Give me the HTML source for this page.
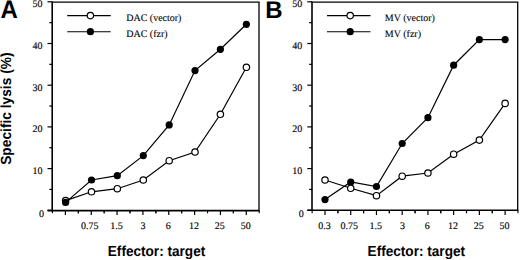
<!DOCTYPE html>
<html><head><meta charset="utf-8"><style>
html,body{margin:0;padding:0;background:#fff;}
body{width:520px;height:260px;overflow:hidden;}
svg{display:block;text-rendering:geometricPrecision;}
.tl{font-family:"Liberation Serif",serif;font-size:10px;fill:#000;stroke:#000;stroke-width:0.14px;}
.lg{font-family:"Liberation Serif",serif;font-size:10px;fill:#000;stroke:#000;stroke-width:0.1px;}
.ax{font-family:"Liberation Sans",sans-serif;font-weight:bold;font-size:13.6px;fill:#000;}
.big{font-family:"Liberation Sans",sans-serif;font-weight:bold;font-size:24px;fill:#000;}
</style></head><body>
<svg width="520" height="260" viewBox="0 0 520 260">
<rect width="520" height="260" fill="#fff"/>
<text transform="translate(0.4,17.9) scale(1,1.055)" class="big">A</text>
<text x="265.3" y="18.1" class="big">B</text>
<text transform="translate(11.3,164.8) rotate(-90) scale(1.0,1.07)" class="ax" style="font-size:13.75px">Specific lysis (%)</text>
<line x1="52.2" y1="1.6" x2="52.2" y2="211.4" stroke="#000" stroke-width="1.6"/>
<line x1="52.2" y1="2.2" x2="259.65" y2="2.2" stroke="#000" stroke-width="1.2"/>
<line x1="259.0" y1="2.2" x2="259.0" y2="210.6" stroke="#000" stroke-width="1.3"/>
<line x1="47.5" y1="210.6" x2="259.65" y2="210.6" stroke="#000" stroke-width="1.6"/>
<line x1="47.5" y1="210.27" x2="52.2" y2="210.27" stroke="#000" stroke-width="1.2"/>
<text x="43.90" y="216.67" text-anchor="end" class="tl">0</text>
<line x1="49.300000000000004" y1="189.42" x2="52.2" y2="189.42" stroke="#000" stroke-width="1.2"/>
<line x1="47.5" y1="168.58" x2="52.2" y2="168.58" stroke="#000" stroke-width="1.2"/>
<text x="42.40" y="174.08" text-anchor="end" class="tl">10</text>
<line x1="49.300000000000004" y1="147.73" x2="52.2" y2="147.73" stroke="#000" stroke-width="1.2"/>
<line x1="47.5" y1="126.88" x2="52.2" y2="126.88" stroke="#000" stroke-width="1.2"/>
<text x="42.40" y="132.38" text-anchor="end" class="tl">20</text>
<line x1="49.300000000000004" y1="106.04" x2="52.2" y2="106.04" stroke="#000" stroke-width="1.2"/>
<line x1="47.5" y1="85.19" x2="52.2" y2="85.19" stroke="#000" stroke-width="1.2"/>
<text x="42.40" y="90.69" text-anchor="end" class="tl">30</text>
<line x1="49.300000000000004" y1="64.34" x2="52.2" y2="64.34" stroke="#000" stroke-width="1.2"/>
<line x1="47.5" y1="43.49" x2="52.2" y2="43.49" stroke="#000" stroke-width="1.2"/>
<text x="42.40" y="48.99" text-anchor="end" class="tl">40</text>
<line x1="49.300000000000004" y1="22.65" x2="52.2" y2="22.65" stroke="#000" stroke-width="1.2"/>
<line x1="47.5" y1="1.80" x2="52.2" y2="1.80" stroke="#000" stroke-width="1.2"/>
<text x="42.40" y="7.30" text-anchor="end" class="tl">50</text>
<line x1="65.40" y1="210.27" x2="65.40" y2="215.07000000000002" stroke="#000" stroke-width="1.2"/>
<line x1="52.48" y1="210.27" x2="52.48" y2="213.17000000000002" stroke="#000" stroke-width="1.1"/>
<line x1="78.32" y1="210.27" x2="78.32" y2="213.17000000000002" stroke="#000" stroke-width="1.1"/>
<line x1="91.24" y1="210.27" x2="91.24" y2="215.07000000000002" stroke="#000" stroke-width="1.2"/>
<line x1="78.32" y1="210.27" x2="78.32" y2="213.17000000000002" stroke="#000" stroke-width="1.1"/>
<line x1="104.16" y1="210.27" x2="104.16" y2="213.17000000000002" stroke="#000" stroke-width="1.1"/>
<text x="89.84" y="229" text-anchor="middle" class="tl">0.75</text>
<line x1="117.08" y1="210.27" x2="117.08" y2="215.07000000000002" stroke="#000" stroke-width="1.2"/>
<line x1="104.16" y1="210.27" x2="104.16" y2="213.17000000000002" stroke="#000" stroke-width="1.1"/>
<line x1="130.00" y1="210.27" x2="130.00" y2="213.17000000000002" stroke="#000" stroke-width="1.1"/>
<text x="116.48" y="229" text-anchor="middle" class="tl">1.5</text>
<line x1="142.92" y1="210.27" x2="142.92" y2="215.07000000000002" stroke="#000" stroke-width="1.2"/>
<line x1="130.00" y1="210.27" x2="130.00" y2="213.17000000000002" stroke="#000" stroke-width="1.1"/>
<line x1="155.84" y1="210.27" x2="155.84" y2="213.17000000000002" stroke="#000" stroke-width="1.1"/>
<text x="143.12" y="229" text-anchor="middle" class="tl">3</text>
<line x1="168.76" y1="210.27" x2="168.76" y2="215.07000000000002" stroke="#000" stroke-width="1.2"/>
<line x1="155.84" y1="210.27" x2="155.84" y2="213.17000000000002" stroke="#000" stroke-width="1.1"/>
<line x1="181.68" y1="210.27" x2="181.68" y2="213.17000000000002" stroke="#000" stroke-width="1.1"/>
<text x="168.16" y="229" text-anchor="middle" class="tl">6</text>
<line x1="194.60" y1="210.27" x2="194.60" y2="215.07000000000002" stroke="#000" stroke-width="1.2"/>
<line x1="181.68" y1="210.27" x2="181.68" y2="213.17000000000002" stroke="#000" stroke-width="1.1"/>
<line x1="207.52" y1="210.27" x2="207.52" y2="213.17000000000002" stroke="#000" stroke-width="1.1"/>
<text x="194.00" y="229" text-anchor="middle" class="tl">12</text>
<line x1="220.44" y1="210.27" x2="220.44" y2="215.07000000000002" stroke="#000" stroke-width="1.2"/>
<line x1="207.52" y1="210.27" x2="207.52" y2="213.17000000000002" stroke="#000" stroke-width="1.1"/>
<line x1="233.36" y1="210.27" x2="233.36" y2="213.17000000000002" stroke="#000" stroke-width="1.1"/>
<text x="219.84" y="229" text-anchor="middle" class="tl">25</text>
<line x1="246.28" y1="210.27" x2="246.28" y2="215.07000000000002" stroke="#000" stroke-width="1.2"/>
<line x1="233.36" y1="210.27" x2="233.36" y2="213.17000000000002" stroke="#000" stroke-width="1.1"/>
<line x1="259.20" y1="210.27" x2="259.20" y2="213.17000000000002" stroke="#000" stroke-width="1.1"/>
<text x="245.68" y="229" text-anchor="middle" class="tl">50</text>
<line x1="67.2" y1="15.6" x2="110.7" y2="15.6" stroke="#000" stroke-width="1.1"/>
<circle cx="90.4" cy="15.6" r="3.2" fill="#fff" stroke="#000" stroke-width="1.2"/>
<line x1="67.2" y1="31.7" x2="110.7" y2="31.7" stroke="#000" stroke-width="1.1"/>
<circle cx="90.4" cy="31.7" r="3.6" fill="#000"/>
<text x="126.2" y="21.0" class="lg">DAC (vector)</text>
<text x="126.2" y="37.0" class="lg">DAC (fzr)</text>
<polyline points="65.60,200.6 91.50,191.8 117.30,188.7 143.30,180.0 169.20,160.7 195.00,152.0 220.40,114.3 246.40,67.3" fill="none" stroke="#000" stroke-width="1.2"/>
<circle cx="65.60" cy="200.6" r="3.2" fill="#fff" stroke="#000" stroke-width="1.2"/>
<circle cx="91.50" cy="191.8" r="3.2" fill="#fff" stroke="#000" stroke-width="1.2"/>
<circle cx="117.30" cy="188.7" r="3.2" fill="#fff" stroke="#000" stroke-width="1.2"/>
<circle cx="143.30" cy="180.0" r="3.2" fill="#fff" stroke="#000" stroke-width="1.2"/>
<circle cx="169.20" cy="160.7" r="3.2" fill="#fff" stroke="#000" stroke-width="1.2"/>
<circle cx="195.00" cy="152.0" r="3.2" fill="#fff" stroke="#000" stroke-width="1.2"/>
<circle cx="220.40" cy="114.3" r="3.2" fill="#fff" stroke="#000" stroke-width="1.2"/>
<circle cx="246.40" cy="67.3" r="3.2" fill="#fff" stroke="#000" stroke-width="1.2"/>
<polyline points="65.60,202.4 91.50,180.0 117.30,175.7 143.30,155.6 169.20,124.9 195.00,70.6 220.40,49.3 246.40,24.3" fill="none" stroke="#000" stroke-width="1.2"/>
<circle cx="65.60" cy="202.4" r="3.6" fill="#000"/>
<circle cx="91.50" cy="180.0" r="3.6" fill="#000"/>
<circle cx="117.30" cy="175.7" r="3.6" fill="#000"/>
<circle cx="143.30" cy="155.6" r="3.6" fill="#000"/>
<circle cx="169.20" cy="124.9" r="3.6" fill="#000"/>
<circle cx="195.00" cy="70.6" r="3.6" fill="#000"/>
<circle cx="220.40" cy="49.3" r="3.6" fill="#000"/>
<circle cx="246.40" cy="24.3" r="3.6" fill="#000"/>
<text transform="translate(107.80000000000001,255.6) scale(1.0,1.07)" class="ax">Effector: target</text>
<line x1="312.0" y1="1.6" x2="312.0" y2="211.10000000000002" stroke="#000" stroke-width="1.6"/>
<line x1="312.0" y1="2.2" x2="518.35" y2="2.2" stroke="#000" stroke-width="1.2"/>
<line x1="517.7" y1="2.2" x2="517.7" y2="210.3" stroke="#000" stroke-width="1.3"/>
<line x1="307.3" y1="210.3" x2="518.35" y2="210.3" stroke="#000" stroke-width="1.6"/>
<line x1="307.3" y1="210.27" x2="312.0" y2="210.27" stroke="#000" stroke-width="1.2"/>
<text x="303.70" y="216.67" text-anchor="end" class="tl">0</text>
<line x1="309.1" y1="189.42" x2="312.0" y2="189.42" stroke="#000" stroke-width="1.2"/>
<line x1="307.3" y1="168.58" x2="312.0" y2="168.58" stroke="#000" stroke-width="1.2"/>
<text x="302.20" y="174.08" text-anchor="end" class="tl">10</text>
<line x1="309.1" y1="147.73" x2="312.0" y2="147.73" stroke="#000" stroke-width="1.2"/>
<line x1="307.3" y1="126.88" x2="312.0" y2="126.88" stroke="#000" stroke-width="1.2"/>
<text x="302.20" y="132.38" text-anchor="end" class="tl">20</text>
<line x1="309.1" y1="106.04" x2="312.0" y2="106.04" stroke="#000" stroke-width="1.2"/>
<line x1="307.3" y1="85.19" x2="312.0" y2="85.19" stroke="#000" stroke-width="1.2"/>
<text x="302.20" y="90.69" text-anchor="end" class="tl">30</text>
<line x1="309.1" y1="64.34" x2="312.0" y2="64.34" stroke="#000" stroke-width="1.2"/>
<line x1="307.3" y1="43.49" x2="312.0" y2="43.49" stroke="#000" stroke-width="1.2"/>
<text x="302.20" y="48.99" text-anchor="end" class="tl">40</text>
<line x1="309.1" y1="22.65" x2="312.0" y2="22.65" stroke="#000" stroke-width="1.2"/>
<line x1="307.3" y1="1.80" x2="312.0" y2="1.80" stroke="#000" stroke-width="1.2"/>
<text x="302.20" y="7.30" text-anchor="end" class="tl">50</text>
<line x1="325.00" y1="210.27" x2="325.00" y2="215.07000000000002" stroke="#000" stroke-width="1.2"/>
<line x1="312.13" y1="210.27" x2="312.13" y2="213.17000000000002" stroke="#000" stroke-width="1.1"/>
<line x1="337.87" y1="210.27" x2="337.87" y2="213.17000000000002" stroke="#000" stroke-width="1.1"/>
<text x="324.40" y="229" text-anchor="middle" class="tl">0.3</text>
<line x1="350.73" y1="210.27" x2="350.73" y2="215.07000000000002" stroke="#000" stroke-width="1.2"/>
<line x1="337.87" y1="210.27" x2="337.87" y2="213.17000000000002" stroke="#000" stroke-width="1.1"/>
<line x1="363.60" y1="210.27" x2="363.60" y2="213.17000000000002" stroke="#000" stroke-width="1.1"/>
<text x="349.33" y="229" text-anchor="middle" class="tl">0.75</text>
<line x1="376.46" y1="210.27" x2="376.46" y2="215.07000000000002" stroke="#000" stroke-width="1.2"/>
<line x1="363.59" y1="210.27" x2="363.59" y2="213.17000000000002" stroke="#000" stroke-width="1.1"/>
<line x1="389.32" y1="210.27" x2="389.32" y2="213.17000000000002" stroke="#000" stroke-width="1.1"/>
<text x="375.86" y="229" text-anchor="middle" class="tl">1.5</text>
<line x1="402.19" y1="210.27" x2="402.19" y2="215.07000000000002" stroke="#000" stroke-width="1.2"/>
<line x1="389.32" y1="210.27" x2="389.32" y2="213.17000000000002" stroke="#000" stroke-width="1.1"/>
<line x1="415.06" y1="210.27" x2="415.06" y2="213.17000000000002" stroke="#000" stroke-width="1.1"/>
<text x="402.39" y="229" text-anchor="middle" class="tl">3</text>
<line x1="427.92" y1="210.27" x2="427.92" y2="215.07000000000002" stroke="#000" stroke-width="1.2"/>
<line x1="415.06" y1="210.27" x2="415.06" y2="213.17000000000002" stroke="#000" stroke-width="1.1"/>
<line x1="440.79" y1="210.27" x2="440.79" y2="213.17000000000002" stroke="#000" stroke-width="1.1"/>
<text x="427.32" y="229" text-anchor="middle" class="tl">6</text>
<line x1="453.65" y1="210.27" x2="453.65" y2="215.07000000000002" stroke="#000" stroke-width="1.2"/>
<line x1="440.78" y1="210.27" x2="440.78" y2="213.17000000000002" stroke="#000" stroke-width="1.1"/>
<line x1="466.51" y1="210.27" x2="466.51" y2="213.17000000000002" stroke="#000" stroke-width="1.1"/>
<text x="453.05" y="229" text-anchor="middle" class="tl">12</text>
<line x1="479.38" y1="210.27" x2="479.38" y2="215.07000000000002" stroke="#000" stroke-width="1.2"/>
<line x1="466.51" y1="210.27" x2="466.51" y2="213.17000000000002" stroke="#000" stroke-width="1.1"/>
<line x1="492.25" y1="210.27" x2="492.25" y2="213.17000000000002" stroke="#000" stroke-width="1.1"/>
<text x="478.78" y="229" text-anchor="middle" class="tl">25</text>
<line x1="505.11" y1="210.27" x2="505.11" y2="215.07000000000002" stroke="#000" stroke-width="1.2"/>
<line x1="492.25" y1="210.27" x2="492.25" y2="213.17000000000002" stroke="#000" stroke-width="1.1"/>
<line x1="517.98" y1="210.27" x2="517.98" y2="213.17000000000002" stroke="#000" stroke-width="1.1"/>
<text x="504.51" y="229" text-anchor="middle" class="tl">50</text>
<line x1="327.0" y1="15.6" x2="370.5" y2="15.6" stroke="#000" stroke-width="1.1"/>
<circle cx="350.2" cy="15.6" r="3.2" fill="#fff" stroke="#000" stroke-width="1.2"/>
<line x1="327.0" y1="31.7" x2="370.5" y2="31.7" stroke="#000" stroke-width="1.1"/>
<circle cx="350.2" cy="31.7" r="3.6" fill="#000"/>
<text x="384.8" y="21.0" class="lg">MV (vector)</text>
<text x="384.8" y="37.0" class="lg">MV (fzr)</text>
<polyline points="325.00,199.6 350.73,182.0 376.46,186.5 402.19,143.5 427.92,117.7 453.65,65.2 479.38,39.6 505.11,39.6" fill="none" stroke="#000" stroke-width="1.2"/>
<circle cx="325.00" cy="199.6" r="3.6" fill="#000"/>
<circle cx="350.73" cy="182.0" r="3.6" fill="#000"/>
<circle cx="376.46" cy="186.5" r="3.6" fill="#000"/>
<circle cx="402.19" cy="143.5" r="3.6" fill="#000"/>
<circle cx="427.92" cy="117.7" r="3.6" fill="#000"/>
<circle cx="453.65" cy="65.2" r="3.6" fill="#000"/>
<circle cx="479.38" cy="39.6" r="3.6" fill="#000"/>
<circle cx="505.11" cy="39.6" r="3.6" fill="#000"/>
<polyline points="325.00,180.0 350.73,188.3 376.46,195.7 402.19,176.2 427.92,173.0 453.65,154.2 479.38,140.1 505.11,103.4" fill="none" stroke="#000" stroke-width="1.2"/>
<circle cx="325.00" cy="180.0" r="3.2" fill="#fff" stroke="#000" stroke-width="1.2"/>
<circle cx="350.73" cy="188.3" r="3.2" fill="#fff" stroke="#000" stroke-width="1.2"/>
<circle cx="376.46" cy="195.7" r="3.2" fill="#fff" stroke="#000" stroke-width="1.2"/>
<circle cx="402.19" cy="176.2" r="3.2" fill="#fff" stroke="#000" stroke-width="1.2"/>
<circle cx="427.92" cy="173.0" r="3.2" fill="#fff" stroke="#000" stroke-width="1.2"/>
<circle cx="453.65" cy="154.2" r="3.2" fill="#fff" stroke="#000" stroke-width="1.2"/>
<circle cx="479.38" cy="140.1" r="3.2" fill="#fff" stroke="#000" stroke-width="1.2"/>
<circle cx="505.11" cy="103.4" r="3.2" fill="#fff" stroke="#000" stroke-width="1.2"/>
<text transform="translate(367.6,255.6) scale(1.0,1.07)" class="ax">Effector: target</text>
</svg>
</body></html>
